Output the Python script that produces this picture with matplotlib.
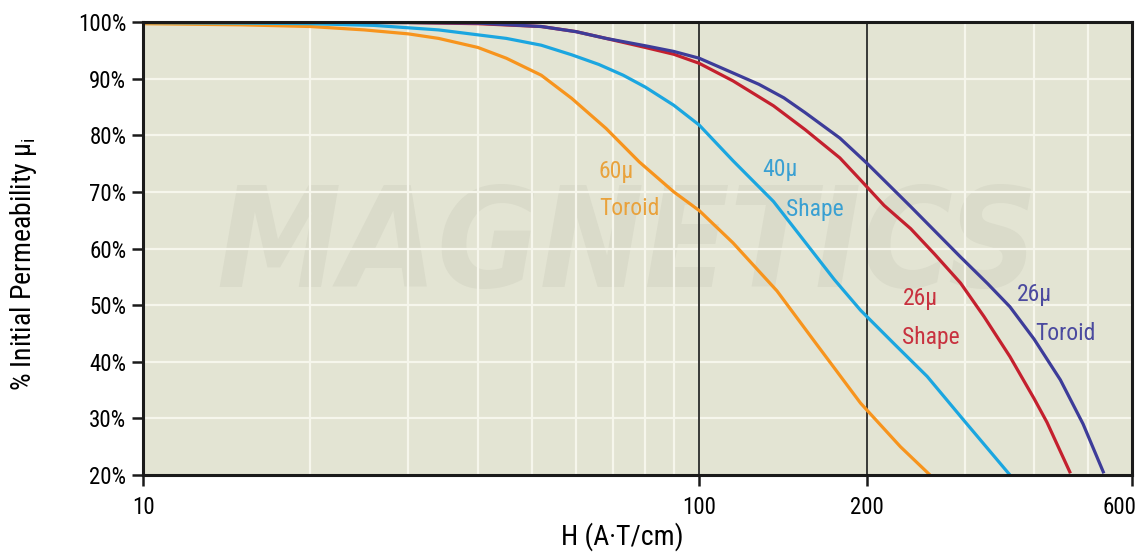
import matplotlib
matplotlib.use("Agg")
import matplotlib.pyplot as plt
from matplotlib.ticker import FixedLocator, NullLocator, FuncFormatter
from matplotlib.transforms import ScaledTranslation

plt.rcParams['font.family'] = ['Liberation Sans Narrow', 'Roboto Condensed', 'Roboto', 'DejaVu Sans']
plt.rcParams['font.stretch'] = 'condensed'
plt.rcParams['mathtext.fontset'] = 'custom'
plt.rcParams['mathtext.rm'] = 'Roboto'

# H (A-T/cm) vs % of initial permeability
h_60_toroid = [10, 15, 20, 25, 30, 34, 40, 45, 52, 59, 68, 78, 90, 100, 115, 138, 160, 195, 230, 260]
p_60_toroid = [99.7, 99.5, 99.2, 98.6, 97.9, 97.1, 95.5, 93.6, 90.6, 86.5, 81.2, 75.3, 70.0, 66.7, 61.0, 52.5, 44.0, 32.7, 25.0, 20.0]

h_40_shape = [10, 15, 20, 26, 34, 45, 52, 59, 66, 73, 80, 90, 100, 115, 136, 154, 175, 195, 225, 257, 300, 362]
p_40_shape = [99.9, 99.8, 99.7, 99.4, 98.6, 97.1, 95.9, 94.2, 92.5, 90.6, 88.5, 85.3, 81.8, 75.5, 68.3, 61.5, 54.5, 49.1, 43.0, 37.4, 29.5, 20.0]

h_26_shape = [10, 20, 30, 40, 52, 60, 68, 80, 90, 100, 115, 136, 155, 179, 195, 215, 240, 265, 295, 325, 362, 400, 422, 465]
p_26_shape = [100, 99.95, 99.9, 99.7, 99.2, 98.3, 97.1, 95.5, 94.3, 92.7, 89.6, 85.2, 81.0, 76.0, 72.1, 67.6, 63.5, 59.0, 53.9, 48.0, 40.9, 33.5, 29.3, 20.3]

h_26_toroid = [10, 20, 30, 40, 52, 60, 68, 80, 90, 100, 115, 128, 142, 155, 179, 200, 240, 295, 330, 362, 400, 446, 490, 534]
p_26_toroid = [100, 99.95, 99.9, 99.8, 99.2, 98.3, 97.1, 95.8, 94.8, 93.6, 91.0, 89.0, 86.6, 84.0, 79.5, 75.1, 67.4, 58.5, 53.8, 49.7, 44.0, 36.8, 29.0, 20.3]

x_ticks = [10, 100, 200, 600]
y_ticks = [20, 30, 40, 50, 60, 70, 80, 90, 100]
x_grid = [20, 30, 40, 50, 60, 70, 80, 90, 300, 400, 500]
x_dark = [100, 200]

# (H, %, line colour, label colour, label lines, label positions)
CURVES = [
    (h_60_toroid, p_60_toroid, '#f7941d', '#e9a23c', ['60μ', 'Toroid'], [(66, 73.6), (66, 67.0)]),
    (h_40_shape, p_40_shape, '#1ba6e0', '#3aa0d2', ['40μ', 'Shape'], [(130, 73.9), (143, 66.8)]),
    (h_26_shape, p_26_shape, '#c4202e', '#c8323f', ['26μ', 'Shape'], [(232, 51.2), (232, 44.3)]),
    (h_26_toroid, p_26_toroid, '#3d3c99', '#4b4a9f', ['26μ', 'Toroid'], [(373, 51.8), (402, 45.0)]),
]

fig = plt.figure(figsize=(11.46, 5.58), dpi=100)
ax = fig.add_axes([0.1248, 0.1487, 0.8630, 0.8119])
ax.set_facecolor('#e3e4d3')

# faint watermark
ax.text(0.49, 0.5, 'MAGNETICS', transform=ax.transAxes, ha='center', va='center',
        fontsize=100, fontweight='bold', style='italic', color='#dadbca',
        family=['DejaVu Sans'], zorder=0)

# white grid
for v in y_ticks[1:-1]:
    ax.axhline(v, color='#f6f6ec', lw=1.6, zorder=1)
for v in x_grid:
    ax.axvline(v, color='#f6f6ec', lw=1.6, zorder=1)
for v in x_dark:
    ax.axvline(v, color='#2b2b2b', lw=1.3, zorder=2)

for h, p, col, tcol, words, pos in CURVES:
    ax.plot(h, p, color=col, lw=2.3, zorder=3, solid_capstyle='butt', solid_joinstyle='round')
    for w, (tx, ty) in zip(words, pos):
        ax.text(tx, ty, w, color=tcol, fontsize=17, ha='left', va='center', zorder=4)

ax.set_xscale('log')
ax.set_xlim(10, 600)
ax.set_ylim(20, 100)
ax.xaxis.set_major_locator(FixedLocator(x_ticks))
ax.xaxis.set_minor_locator(NullLocator())
ax.xaxis.set_major_formatter(FuncFormatter(lambda v, _: f'{v:.0f}'))
ax.yaxis.set_major_locator(FixedLocator(y_ticks))
ax.yaxis.set_major_formatter(FuncFormatter(lambda v, _: f'{v:.0f}%'))

for s in ax.spines.values():
    s.set_linewidth(2.2)
    s.set_color('#1a1a1a')
    s.set_zorder(5)
ax.tick_params(axis='both', which='major', length=8, width=1.8, direction='out',
               labelsize=16.5, color='#1a1a1a', pad=4)
ax.tick_params(axis='x', pad=7)

# nudge the "600" label inward like the reference
last = ax.xaxis.get_major_ticks()[-1].label1
last.set_transform(last.get_transform() + ScaledTranslation(-9 / 72, 0, fig.dpi_scale_trans))

ax.set_ylabel('% Initial Permeability μ$_\\mathregular{i}$', fontsize=20)
ax.yaxis.set_label_coords(-0.105, 0.465)
ax.set_xlabel('H (A·T/cm)', fontsize=20)
ax.xaxis.set_label_coords(0.485, -0.105)

fig.savefig('out.png', dpi=100)
